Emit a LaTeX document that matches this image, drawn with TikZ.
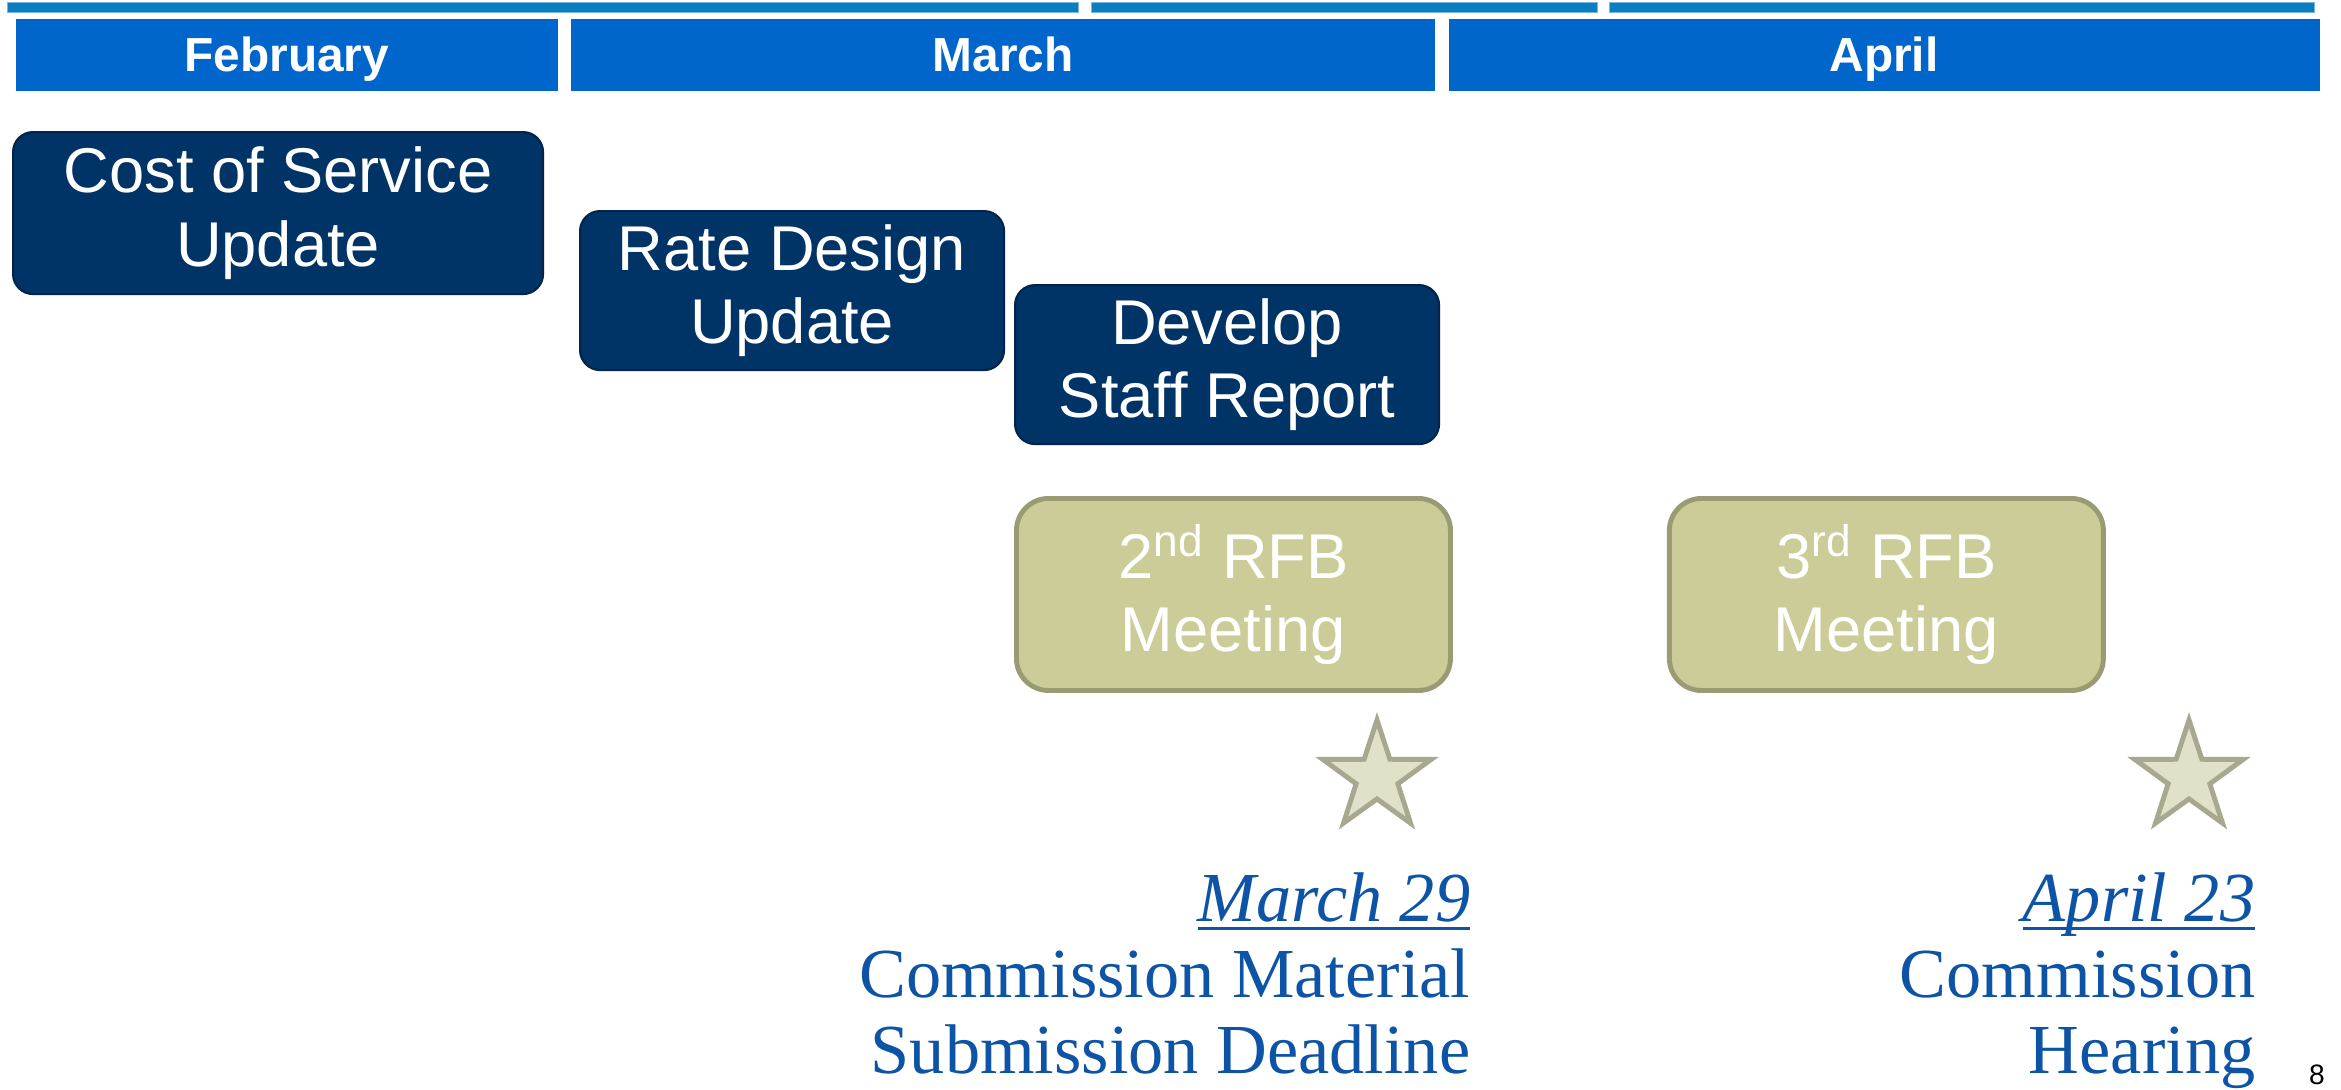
\documentclass[tikz,border=0pt]{standalone}
\usepackage{fontspec}
\setmainfont{Liberation Serif}
\setsansfont{Liberation Sans}
\usetikzlibrary{positioning,shapes.geometric}
\definecolor{barblue}{RGB}{11,125,193}
\definecolor{monthblue}{RGB}{0,102,204}
\definecolor{navy}{RGB}{0,51,102}
\definecolor{navyline}{RGB}{0,36,74}
\definecolor{olive}{RGB}{204,204,153}
\definecolor{oliveline}{RGB}{155,155,115}
\definecolor{starfill}{RGB}{225,225,202}
\definecolor{starline}{RGB}{168,168,145}
\definecolor{dateblue}{RGB}{14,84,166}
\newsavebox{\datebox}
\newcommand{\dateul}[1]{\sbox{\datebox}{\textit{#1}}\rlap{\rule[-2.6pt]{\wd\datebox}{1pt}}\usebox{\datebox}}
\tikzset{
  phase bar/.style={fill=barblue, draw=barblue!55!white, line width=0.3pt, minimum height=1mm, inner sep=0pt, anchor=north west},
  month/.style={fill=monthblue, text=white, font=\sffamily\bfseries\fontsize{13.6}{16}\selectfont, text height=9.7pt, text depth=0pt, minimum height=7.2mm, inner sep=0pt, anchor=north west},
  task/.style={align=center, text=white, font=\sffamily\fontsize{18}{21}\selectfont, inner sep=0pt, anchor=north west},
  staff task/.style={task, fill=navy, draw=navyline, line width=0.6pt, rounded corners=2mm},
  rfb meeting/.style={task, fill=olive, draw=oliveline, line width=1.4pt, rounded corners=3.2mm},
  milestone/.style={star, star points=5, star point ratio=2.6, fill=starfill, draw=starline, line width=1.4pt, minimum size=11.4mm, inner sep=0pt},
  deadline/.style={align=right, text=dateblue, font=\fontsize{20}{21.6}\selectfont, anchor=base east, inner sep=0pt},
}

\begin{document}
\begin{tikzpicture}[x=0.1mm,y=-0.1mm]
\path[fill=white] (0,0) rectangle (2341,1089);
\useasboundingbox (0,0) rectangle (2341,1089);
%the timeline
\node[phase bar, minimum width=107.1mm] (barA) at (7,2) {};
\node[phase bar, minimum width=50.6mm] (barB) at (1091,2) {};
\node[phase bar, minimum width=70.5mm] (barC) at (1609,2) {};
\node[month, minimum width=54.2mm] (feb) at (15,18) {February};
\node[month, minimum width=86.4mm, right=1.2mm of feb] (mar) {March};
\node[month, minimum width=87.1mm, right=1.2mm of mar] (apr) {April};
%the tasks
\node[staff task, minimum width=53mm, minimum height=16.2mm] (cos) at (12,131) {Cost of Service\\Update};
\node[staff task, minimum width=42.4mm, minimum height=15.9mm] (rate) at (579,210) {Rate Design\\Update};
\node[staff task, minimum width=42.4mm, minimum height=15.9mm] (staff) at (1014,284) {Develop\\Staff Report};
\node[rfb meeting, minimum width=43.4mm, minimum height=19.2mm] (rfbB) at (1014,496) {2\textsuperscript{nd} RFB\\Meeting};
\node[rfb meeting, minimum width=43.4mm, minimum height=19.2mm, right=21.4mm of rfbB] (rfbC) {3\textsuperscript{rd} RFB\\Meeting};
%the milestones
\node[milestone] (starB) at (1377,777) {};
\node[milestone] (starC) at (2189,777) {};
\node[deadline] (dueB) at (1471,1073) {\dateul{March 29}\\Commission Material\\Submission Deadline};
\node[deadline] (dueC) at (2256,1073) {\dateul{April 23}\\Commission\\Hearing};
\node[font=\sffamily\fontsize{8}{9}\selectfont, anchor=base, inner sep=0pt] (page) at (2317,1084) {8};
\end{tikzpicture}
\end{document}
